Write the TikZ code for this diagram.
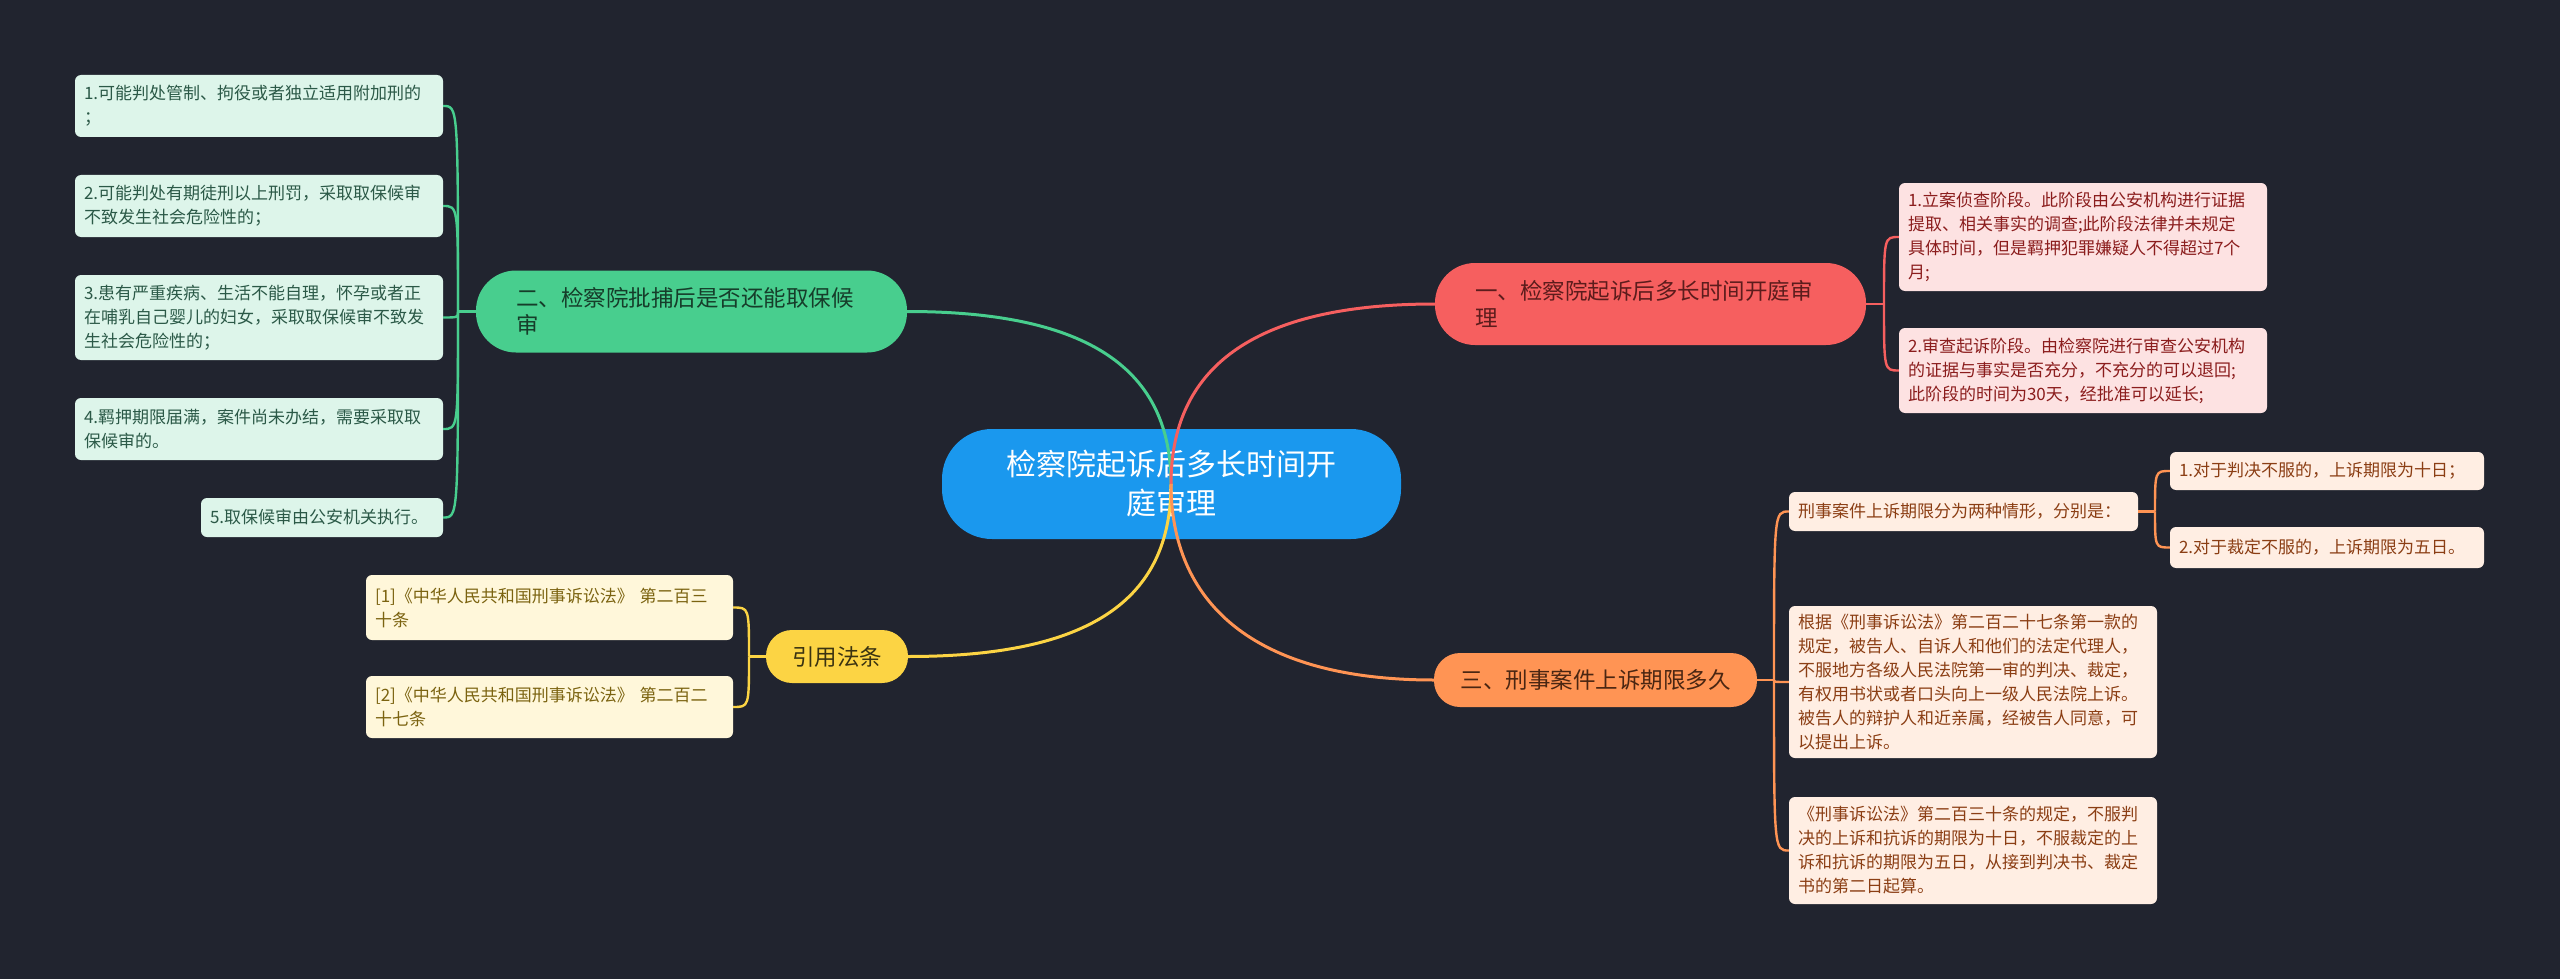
\documentclass[tikz,border=0pt]{standalone}
\usepackage{fontspec}
\setmainfont{Noto Sans CJK SC}
\definecolor{bgc}{HTML}{21242F}
\definecolor{cBlue}{HTML}{1A98EE}
\definecolor{cRed}{HTML}{F65F5F}
\definecolor{cGreen}{HTML}{48CE8E}
\definecolor{cYellow}{HTML}{FCD444}
\definecolor{cOrange}{HTML}{FF9454}
\definecolor{lGreen}{HTML}{DDF5EA}
\definecolor{lRed}{HTML}{FDE2E2}
\definecolor{lOrange}{HTML}{FFEEE3}
\definecolor{lYellow}{HTML}{FFF7DA}
\definecolor{tGreenLeaf}{HTML}{2B5947}
\definecolor{tGreenB}{HTML}{163D2A}
\definecolor{tRedLeaf}{HTML}{8B1D1D}
\definecolor{tRedB}{HTML}{5C1C1C}
\definecolor{tYellowLeaf}{HTML}{7B6310}
\definecolor{tYellowB}{HTML}{3A3311}
\definecolor{tOrangeLeaf}{HTML}{8B3E14}
\definecolor{tOrangeB}{HTML}{4A2612}
\begin{document}
\begin{tikzpicture}[x=1pt,y=-1pt,
  mainconn/.style={line width=3pt},
  leafconn/.style={line width=2.4pt},
  leaf/.style={rounded corners=6pt, inner xsep=9pt, inner ysep=0pt, align=left,
    font=\fontsize{17}{24}\selectfont},
  gleaf/.style={leaf, fill=lGreen, text=tGreenLeaf},
  rleaf/.style={leaf, fill=lRed, text=tRedLeaf},
  yleaf/.style={leaf, fill=lYellow, text=tYellowLeaf},
  oleaf/.style={leaf, fill=lOrange, text=tOrangeLeaf},
  branch/.style={inner ysep=0pt, font=\fontsize{22.5}{27}\selectfont},
  bigbranch/.style={branch, rounded corners=40pt, inner xsep=40pt, align=left,
    text width=351pt, minimum height=82pt},
  smallbranch/.style={branch, rounded corners=26pt, inner xsep=0pt, align=center}
]
\useasboundingbox (0,0) rectangle (2560,979);
\fill[bgc] (0,0) rectangle (2560,979);

% central
\node[fill=cBlue, text=white, rounded corners=50pt, minimum width=459pt, minimum height=110pt,
  align=center, font=\fontsize{30}{39}\selectfont, inner sep=0pt] (C) at (1171.5,484)
  {检察院起诉后多长时间开\\庭审理};

% branches
\node[bigbranch, fill=cRed, text=tRedB] (B1) at (1650.5,304) {一、检察院起诉后多长时间开庭审\\理};
\node[bigbranch, fill=cGreen, text=tGreenB] (B2) at (691.5,311.5) {二、检察院批捕后是否还能取保候\\审};
\node[smallbranch, fill=cYellow, text=tYellowB, minimum width=142pt, minimum height=53pt] (B3) at (837,656.5) {引用法条};
\node[smallbranch, fill=cOrange, text=tOrangeB, minimum width=323pt, minimum height=54pt] (B4) at (1595.5,680) {三、刑事案件上诉期限多久};

% green leaves
\node[gleaf, text width=350pt, minimum height=62pt] (L1) at (259,106) {1.可能判处管制、拘役或者独立适用附加刑的\\；};
\node[gleaf, text width=350pt, minimum height=62pt] (L2) at (259,206) {2.可能判处有期徒刑以上刑罚，采取取保候审\\不致发生社会危险性的；};
\node[gleaf, text width=350pt, minimum height=85pt] (L3) at (259,317.5) {3.患有严重疾病、生活不能自理，怀孕或者正\\在哺乳自己婴儿的妇女，采取取保候审不致发\\生社会危险性的；};
\node[gleaf, text width=350pt, minimum height=62pt] (L4) at (259,429) {4.羁押期限届满，案件尚未办结，需要采取取\\保候审的。};
\node[gleaf, text width=224pt, minimum height=39pt] (L5) at (322,517.5) {5.取保候审由公安机关执行。};

% yellow leaves
\node[yleaf, text width=349pt, minimum height=65pt] (Y1) at (549.5,607.5) {[1]《中华人民共和国刑事诉讼法》 第二百三\\十条};
\node[yleaf, text width=349pt, minimum height=62pt] (Y2) at (549.5,707) {[2]《中华人民共和国刑事诉讼法》 第二百二\\十七条};

% red leaves
\node[rleaf, text width=350pt, minimum height=108pt] (R1) at (2083,237) {1.立案侦查阶段。此阶段由公安机构进行证据\\提取、相关事实的调查;此阶段法律并未规定\\具体时间，但是羁押犯罪嫌疑人不得超过7个\\月;};
\node[rleaf, text width=350pt, minimum height=85pt] (R2) at (2083,370.5) {2.审查起诉阶段。由检察院进行审查公安机构\\的证据与事实是否充分，不充分的可以退回;\\此阶段的时间为30天，经批准可以延长;};

% orange leaves
\node[oleaf, text width=331pt, minimum height=39pt] (O1) at (1963.5,511.5) {刑事案件上诉期限分为两种情形，分别是：};
\node[oleaf, text width=296pt, minimum height=38pt] (O1a) at (2327,471) {1.对于判决不服的，上诉期限为十日；};
\node[oleaf, text width=296pt, minimum height=41pt] (O1b) at (2327,547.5) {2.对于裁定不服的，上诉期限为五日。};
\node[oleaf, text width=350pt, minimum height=152pt] (O2) at (1973,682) {根据《刑事诉讼法》第二百二十七条第一款的\\规定，被告人、自诉人和他们的法定代理人，\\不服地方各级人民法院第一审的判决、裁定，\\有权用书状或者口头向上一级人民法院上诉。\\被告人的辩护人和近亲属，经被告人同意，可\\以提出上诉。};
\node[oleaf, text width=350pt, minimum height=107pt] (O3) at (1973,850.5) {《刑事诉讼法》第二百三十条的规定，不服判\\决的上诉和抗诉的期限为十日，不服裁定的上\\诉和抗诉的期限为五日，从接到判决书、裁定\\书的第二日起算。};

% main connectors
\coordinate (c0) at (1171,484);
\draw[mainconn, cGreen] (c0) .. controls (1171,370) and (1090,311.5) .. (B2.east);
\draw[mainconn, cRed] (c0) .. controls (1171,370) and (1250,304) .. (B1.west);
\draw[mainconn, cYellow] (c0) .. controls (1171,600) and (1090,656.5) .. (B3.east);
\draw[mainconn, cOrange] (c0) .. controls (1171,600) and (1250,680) .. (B4.west);

% junctions
\coordinate (jG) at (458,311.5);
\coordinate (jR) at (1884,304);
\coordinate (jY) at (749,656.5);
\coordinate (jO) at (1774,680);
\coordinate (jO1) at (2155,511.5);

\draw[leafconn, cGreen] (B2.west) -- (jG);
\foreach \n in {L1,L2,L3,L4,L5}
  \draw[leafconn, cGreen] (jG) .. controls (jG |- \n.east) and (jG |- \n.east) .. (\n.east);
\draw[leafconn, cRed] (B1.east) -- (jR);
\foreach \n in {R1,R2}
  \draw[leafconn, cRed] (jR) .. controls (jR |- \n.west) and (jR |- \n.west) .. (\n.west);
\draw[leafconn, cYellow] (B3.west) -- (jY);
\foreach \n in {Y1,Y2}
  \draw[leafconn, cYellow] (jY) .. controls (jY |- \n.east) and (jY |- \n.east) .. (\n.east);
\draw[leafconn, cOrange] (B4.east) -- (jO);
\foreach \n in {O1,O2,O3}
  \draw[leafconn, cOrange] (jO) .. controls (jO |- \n.west) and (jO |- \n.west) .. (\n.west);
\draw[leafconn, cOrange] (O1.east) -- (jO1);
\foreach \n in {O1a,O1b}
  \draw[leafconn, cOrange] (jO1) .. controls (jO1 |- \n.west) and (jO1 |- \n.west) .. (\n.west);
\end{tikzpicture}
\end{document}
